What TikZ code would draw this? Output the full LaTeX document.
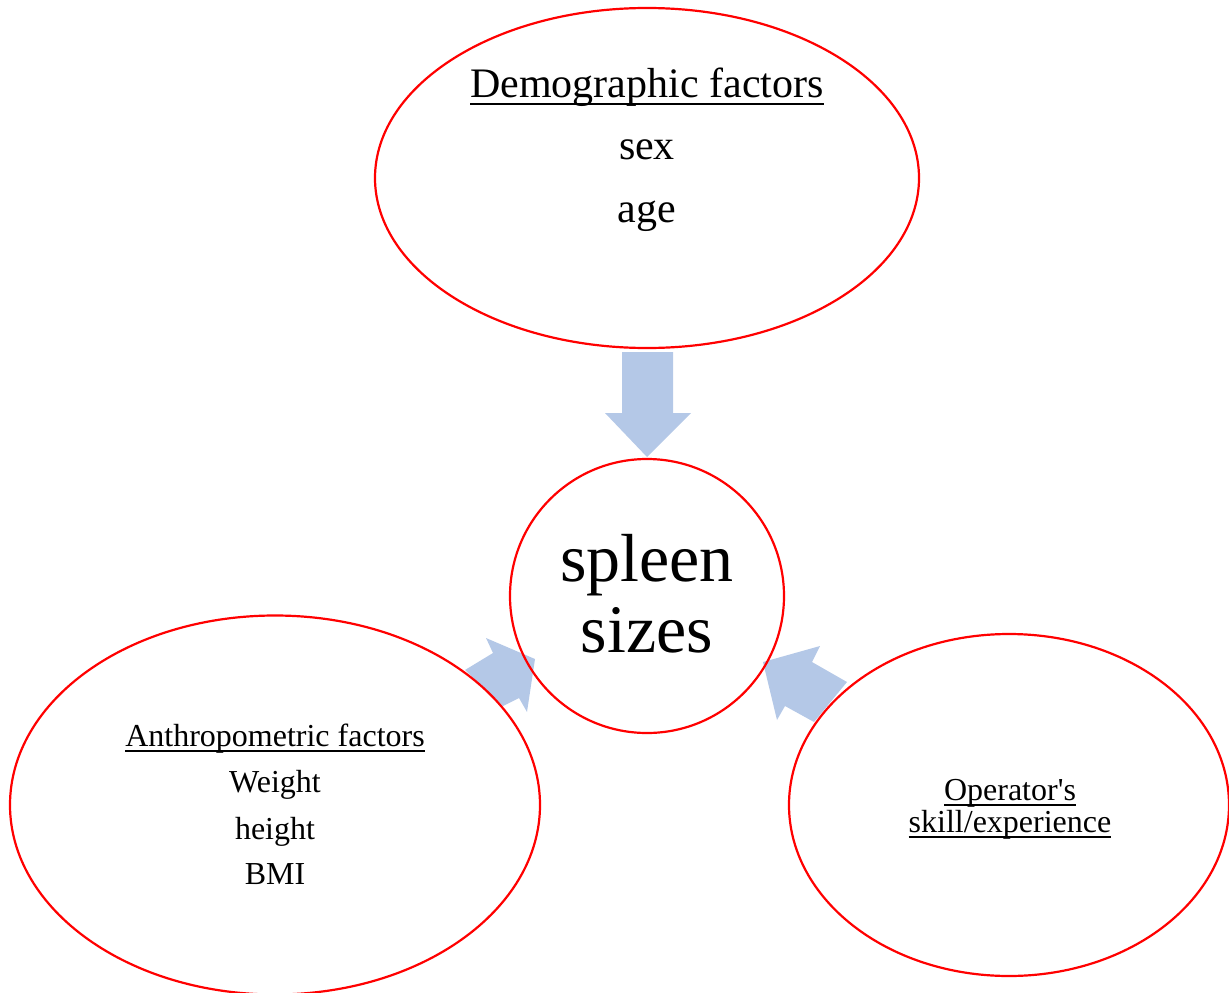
\documentclass[tikz,border=0pt]{standalone}
\usepackage{fontspec}
\setmainfont{Liberation Serif}
\usetikzlibrary{shapes.geometric}
\definecolor{ovalred}{RGB}{255,0,0}
\definecolor{arrowblue}{RGB}{180,200,231}
\newcommand\wordul[1]{\setbox0\hbox{#1}\rlap{\rule[-0.19em]{\wd0}{0.055em}}\box0}
\tikzset{
  oval/.style={ellipse, draw=ovalred, line width=2.2pt, inner sep=0pt},
  blockarrow/.style={fill=arrowblue, draw=none},
  txt/.style={anchor=base, inner sep=0pt, text=black},
  bigtxt/.style={txt, font=\fontsize{42}{50}\selectfont},
  hugetxt/.style={txt, font=\fontsize{68}{80}\selectfont},
  smalltxt/.style={txt, font=\fontsize{32}{38}\selectfont}
}
\begin{document}
\begin{tikzpicture}[x=1pt, y=-1pt]
\useasboundingbox (0,0) rectangle (1229,993);
% block arrows
\fill[blockarrow] (622,352) -- (673,352) -- (673,413) -- (691,413) -- (647,457) -- (605,413) -- (622,413) -- cycle;
\fill[blockarrow] (465,670) -- (493,653) -- (486,638) -- (535,659) -- (527,712) -- (519,698) -- (503,706) -- cycle;
\fill[blockarrow] (847,682) -- (812,662) -- (820,646) -- (763,662) -- (777,720) -- (785,706) -- (814,722) -- cycle;
% ovals
\node[oval, minimum width=544pt, minimum height=340pt] (demo) at (647,178) {};
\node[oval, minimum width=274pt, minimum height=274pt] (spleen) at (647,596) {};
\node[oval, minimum width=530pt, minimum height=379pt] (anthro) at (275,805) {};
\node[oval, minimum width=440pt, minimum height=342pt] (oper) at (1009,805) {};
% texts
\node[bigtxt] (t1) at (647,97) {\wordul{Demographic factors}};
\node[bigtxt] (t2) at (647,159) {sex};
\node[bigtxt] (t3) at (647,222) {age};
\node[hugetxt] (s1) at (647,581) {spleen};
\node[hugetxt] (s2) at (647,652) {sizes};
\node[smalltxt] (a1) at (275,746) {\wordul{Anthropometric factors}};
\node[smalltxt] (a2) at (275,792) {Weight};
\node[smalltxt] (a3) at (275,839) {height};
\node[smalltxt] (a4) at (275,884) {BMI};
\node[smalltxt] (o1) at (1010,800) {\wordul{Operator\textquotesingle s}};
\node[smalltxt] (o2) at (1010,832) {\wordul{skill/experience}};
\end{tikzpicture}
\end{document}
